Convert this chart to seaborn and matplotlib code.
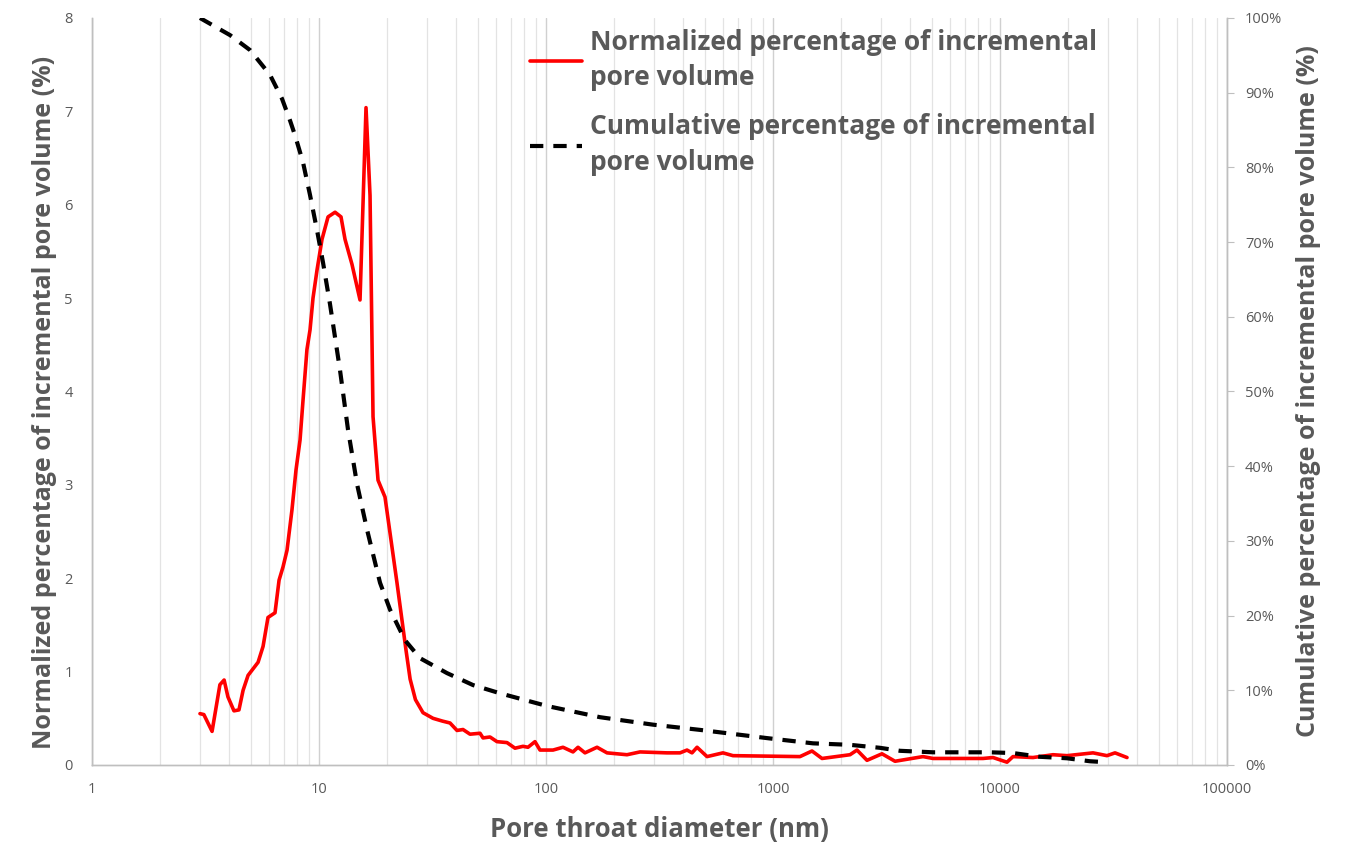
import matplotlib
matplotlib.use("Agg")
import matplotlib.pyplot as plt
import matplotlib.ticker as mticker
import seaborn as sns
import pandas as pd

# Normalized incremental pore volume (%) vs pore throat diameter (nm)
red_d = [2.99, 3.11, 3.38, 3.66, 3.82, 3.97, 4.22, 4.44, 4.63, 4.87, 5.39, 5.67,
         5.96, 6.40, 6.67, 6.94, 7.23, 7.60, 7.92, 8.25, 8.50, 8.85, 9.13, 9.41,
         9.80, 10.31, 10.96, 11.77, 12.50, 13.02, 13.98, 15.16, 16.11, 16.78,
         17.30, 18.20, 19.53, 22.06, 24.17, 25.20, 26.60, 28.72, 31.78, 35.00,
         37.77, 40.55,
         43.09, 46.27, 51.21, 52.79, 56.66, 60.83, 67.32, 73.01, 79.18, 83.30,
         89.43, 94.10, 107.4, 118.8, 131.5, 138.4, 148.5, 167.8, 185.7, 227.4,
         259.5, 341.2, 389.4, 418.0, 439.8, 462.8, 512.1, 602.1, 666.4, 1315,
         1485, 1644, 2184, 2344, 2595, 3021, 3447, 4579, 5068, 8417, 9316, 10735,
         11410, 13976, 17120, 19735, 25690, 29600, 32110, 36270]
red_v = [0.55, 0.54, 0.36, 0.86, 0.91, 0.73, 0.58, 0.59, 0.80, 0.96, 1.10, 1.27,
         1.58, 1.63, 1.98, 2.12, 2.30, 2.73, 3.16, 3.48, 3.90, 4.45, 4.66, 5.00,
         5.30, 5.63, 5.87, 5.92, 5.87, 5.63, 5.36, 4.98, 7.04, 6.10,
         3.73, 3.05, 2.87, 1.95, 1.23, 0.92, 0.70, 0.56, 0.50, 0.47,
         0.45, 0.37,
         0.38, 0.33, 0.34, 0.29, 0.30, 0.25, 0.24, 0.18, 0.20, 0.19,
         0.25, 0.16, 0.16, 0.19, 0.14, 0.19, 0.13, 0.19, 0.13, 0.11,
         0.14, 0.13, 0.13, 0.16, 0.13, 0.19, 0.09, 0.13, 0.10, 0.09,
         0.15, 0.07, 0.11, 0.16, 0.05, 0.12, 0.04, 0.09, 0.07, 0.07, 0.08, 0.03,
         0.09, 0.08, 0.11, 0.10, 0.13, 0.10, 0.13, 0.08]

# Cumulative incremental pore volume (%)
cum_d = [2.99, 4.06, 4.97, 6.08, 6.87, 7.45, 7.84, 8.50, 9.13, 9.80, 10.41, 11.18,
         12.37, 13.42, 14.71, 16.28, 18.57, 20.55, 23.93, 27.86, 36.64, 47.70,
         62.72, 101.0, 172.9, 296.0, 476.9, 941, 1501, 2184, 2960, 3627, 5068,
         9036, 11410, 15010, 19735, 24920, 28430]
cum_v = [100, 97.7, 95.7, 92.4, 89.2, 86.3, 84.3, 80.7, 76.3, 71.6, 67.3, 61.7,
         52.9, 44.9, 37.6, 31.5, 24.4, 20.8, 16.7, 14.3, 12.3, 10.7,
         9.6, 7.9, 6.4, 5.4, 4.7, 3.6, 2.9, 2.7, 2.3, 1.9, 1.7,
         1.7, 1.6, 1.1, 0.9, 0.5, 0.4]

x_ticks = [1, 10, 100, 1000, 10000, 100000]
x_tick_labels = ["1", "10", "100", "1000", "10000", "100000"]

label_red = "Normalized percentage of incremental\npore volume"
label_cum = "Cumulative percentage of incremental\npore volume"

sns.set_style("white")
plt.rcParams['font.family'] = ['Open Sans', 'DejaVu Sans']

grey = "#595959"
fig = plt.figure(figsize=(13.59, 8.43), dpi=100)
ax = fig.add_axes([92/1359, 1 - 765/843, (1227-92)/1359, (765-18)/843])
ax2 = ax.twinx()

df_red = pd.DataFrame({"d": red_d, "v": red_v})
df_cum = pd.DataFrame({"d": cum_d, "v": cum_v})

sns.lineplot(data=df_red, x="d", y="v", ax=ax, color="#ff0000", linewidth=2.6,
             label=label_red, legend=False, zorder=3)
sns.lineplot(data=df_cum, x="d", y="v", ax=ax2, color="black", linewidth=3.0,
             label=label_cum, legend=False, zorder=3)
ax2.lines[0].set_dashes((3.2, 2.4))

ax.set_xscale("log")
ax.set_xlim(1, 100000)
ax.set_ylim(0, 8)
ax2.set_ylim(0, 100)
ax.set_xticks(x_ticks)
ax.set_xticklabels(x_tick_labels)
ax.xaxis.set_minor_locator(mticker.LogLocator(base=10, subs=range(2, 10), numticks=20))
ax.xaxis.set_minor_formatter(mticker.NullFormatter())
ax.set_yticks(range(0, 9))
ax2.set_yticks(range(0, 101, 10))
ax2.yaxis.set_major_formatter(mticker.FuncFormatter(lambda v, p: f"{v:.0f}%"))

ax.grid(True, which="major", axis="x", color="#d0d0d0", linewidth=1.0)
ax.grid(True, which="minor", axis="x", color="#e3e3e3", linewidth=0.9)
ax.grid(False, axis="y")
ax2.grid(False)
ax.set_axisbelow(True)

for a in (ax, ax2):
    for s in a.spines.values():
        s.set_color("#bfbfbf")
        s.set_linewidth(1.0)
    a.spines["top"].set_visible(False)

ax.tick_params(axis="x", which="both", length=0, labelsize=10.5, labelcolor=grey, pad=12)
ax.tick_params(axis="y", which="both", length=0, labelsize=10.5, labelcolor=grey, pad=14)
ax2.tick_params(axis="y", direction="out", length=5, color="#bfbfbf",
                labelsize=10.5, labelcolor=grey, pad=8)

ax.set_xlabel("Pore throat diameter (nm)", fontsize=18.5, fontweight="bold",
              color=grey, labelpad=14)
ax.set_ylabel("Normalized percentage of incremental pore volume (%)", fontsize=18,
              fontweight="bold", color=grey, labelpad=5)
ax.yaxis.label.set_y(0.486)
ax2.set_ylabel("Cumulative percentage of incremental pore volume (%)", fontsize=18,
               fontweight="bold", color=grey, labelpad=10, rotation=90)

h1 = ax.lines[0]
h2 = ax2.lines[0]
leg = ax2.legend([h1, h2], [label_red, label_cum], loc="upper left",
                 bbox_to_anchor=((519-92)/(1227-92), 1.0), frameon=False,
                 prop={"size": 19, "weight": "bold"}, handlelength=2.0,
                 handletextpad=0.3, labelspacing=0.83, borderaxespad=0)
for t in leg.get_texts():
    t.set_color(grey)
    t.set_linespacing(1.42)

fig.savefig("out.png", dpi=100)
